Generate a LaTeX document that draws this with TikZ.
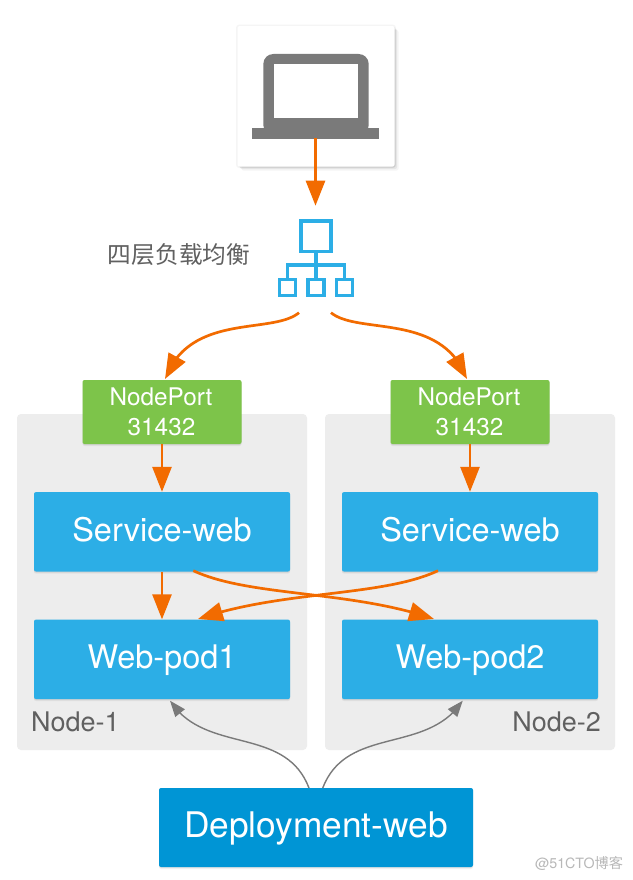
\documentclass[tikz,border=0pt]{standalone}
\usepackage{fontspec}
\setmainfont{TeX Gyre Heros}
\newfontfamily\cjkfont{Noto Sans CJK SC}
\usetikzlibrary{arrows.meta,bending}
\definecolor{orangeline}{HTML}{F26B00}
\definecolor{boxblue}{HTML}{2CAEE6}
\definecolor{deepblue}{HTML}{0095D5}
\definecolor{portgreen}{HTML}{7DC44A}
\definecolor{panelgray}{HTML}{EDEDED}
\definecolor{laptopgray}{HTML}{7A7A7A}
\definecolor{labelgray}{HTML}{606060}
\tikzset{
  softshadow/.style={
    preaction={draw=none,fill=black,fill opacity=.05,transform canvas={yshift=-2pt}},
    preaction={draw=none,fill=black,fill opacity=.06,transform canvas={yshift=-1pt}}},
  panel/.style={rectangle,rounded corners=4pt,fill=panelgray,minimum width=290pt,minimum height=336pt,inner sep=0pt},
  bluebox/.style={rectangle,rounded corners=2pt,softshadow,fill=boxblue,text=white,minimum width=256pt,minimum height=79.5pt,inner sep=0pt,text height=26pt,text depth=7pt,font=\fontsize{32.5}{36}\selectfont},
  portbox/.style={rectangle,rounded corners=2pt,softshadow,fill=portgreen,text=white,minimum width=159pt,minimum height=64pt,inner sep=0pt,align=center,font=\fontsize{24.3}{30}\selectfont},
  deploybox/.style={rectangle,rounded corners=2pt,softshadow,fill=deepblue,text=white,minimum width=314pt,minimum height=79pt,inner sep=0pt,text height=28.4pt,text depth=8pt,font=\fontsize{35.3}{40}\selectfont},
  cardbox/.style={rectangle,rounded corners=2pt,fill=white,minimum width=157pt,minimum height=140.5pt,inner sep=0pt,
    preaction={draw=black,draw opacity=.04,line width=3pt,fill=none},
    preaction={draw=none,fill=black,fill opacity=.04,transform canvas={xshift=4pt,yshift=-4pt}},
    preaction={draw=none,fill=black,fill opacity=.06,transform canvas={xshift=2.5pt,yshift=-2.5pt}},
    preaction={draw=none,fill=black,fill opacity=.07,transform canvas={xshift=1pt,yshift=-1pt}}},
  flow/.style={draw=orangeline,line width=2.7pt,-{Triangle[length=25pt,width=19pt,flex=1]}},
  control/.style={draw=laptopgray,line width=1.4pt,-{Triangle[length=16pt,width=12pt,flex=1]}},
  iconline/.style={draw=boxblue,line width=3.4pt},
  nodelabel/.style={text=labelgray,inner sep=0pt,font=\fontsize{27}{30}\selectfont}
}
\begin{document}
\begin{tikzpicture}[x=1pt,y=-1pt]
\useasboundingbox (0,0) rectangle (632,880);
\fill[white] (0,0) rectangle (632,880);
% panels
\node[panel] (panelA) at (162,582) {};
\node[panel] (panelB) at (470,582) {};
% laptop card
\node[cardbox] (card) at (316,96.3) {};
\fill[laptopgray,rounded corners=10pt] (263.3,54) rectangle (368.7,135);
\fill[white] (273.7,64.3) rectangle (358.3,117.7);
\fill[laptopgray] (252.3,128) rectangle (379.3,138.7);
\coordinate (laptopbase) at (315.5,138);
% load balancer icon
\node[iconline,rectangle,minimum width=30pt,minimum height=30.5pt,inner sep=0pt] (lbtop) at (316,236.3) {};
\node[iconline,rectangle,minimum width=16pt,minimum height=16pt,inner sep=0pt] (lbA) at (287.5,287.3) {};
\node[iconline,rectangle,minimum width=16pt,minimum height=16pt,inner sep=0pt] (lbB) at (316,287.3) {};
\node[iconline,rectangle,minimum width=16pt,minimum height=16pt,inner sep=0pt] (lbC) at (344.5,287.3) {};
\coordinate (lbbar) at (316,265);
\draw[iconline] (lbtop.south) -- (lbB.north);
\draw[iconline] (lbA.north) |- (lbbar) -| (lbC.north);
\coordinate (lbin) at (315.5,205.7);
\coordinate (lbleft) at (299,312.7);
\coordinate (lbright) at (331,312.7);
\node[text=labelgray,inner sep=0pt,font=\cjkfont\fontsize{23.7}{28}\selectfont] (lblabel) at (179,255) {四层负载均衡};
% boxes
\node[portbox] (portA) at (162,412) {NodePort\kern2pt\\31432\kern1pt};
\node[portbox] (portB) at (470,412) {NodePort\kern2pt\\31432\kern1pt};
\node[bluebox] (svcA) at (162,531.8) {Service-web};
\node[bluebox] (svcB) at (470,531.8) {Service-web};
\node[bluebox] (podA) at (162,659.3) {Web-pod1};
\node[bluebox] (podB) at (470,659.3) {Web-pod2};
\node[deploybox] (deploy) at (316,827.5) {Deployment-web};
\node[nodelabel,anchor=west] (nameA) at (31,722) {Node-1};
\node[nodelabel,anchor=east] (nameB) at (601,722) {Node-2};
\node[text=black!28,inner sep=0pt,font=\fontsize{14.2}{16}\selectfont] (mark) at (579,863) {@51CTO{\cjkfont 博客}};
% connector ends
\coordinate (portAin) at (165,379);
\coordinate (portBin) at (467,379);
\coordinate (svcAout) at (193.3,570.7);
\coordinate (svcBout) at (438,570.7);
\coordinate (podAin) at (198,619);
\coordinate (podBin) at (434,619);
\coordinate (depL) at (309,788);
\coordinate (depR) at (322.7,788);
\coordinate (podAc) at (170,700.7);
\coordinate (podBc) at (462.7,700.7);
% connectors
\draw[flow] (laptopbase) -- (lbin);
\draw[flow] (lbleft) .. controls (272,335) and (190,312) .. (portAin);
\draw[flow] (lbright) .. controls (358,335) and (442,312) .. (portBin);
\draw[flow] (portA.south) -- (svcA.north);
\draw[flow] (portB.south) -- (svcB.north);
\draw[flow] (svcA.south) -- (podA.north);
\draw[flow] (svcAout) .. controls (250,597) and (350,590) .. (podBin);
\draw[flow] (svcBout) .. controls (382,597) and (282,590) .. (podAin);
\draw[control] (depL) .. controls (285,725) and (205,755) .. (podAc);
\draw[control] (depR) .. controls (347,725) and (427,755) .. (podBc);
\end{tikzpicture}
\end{document}
